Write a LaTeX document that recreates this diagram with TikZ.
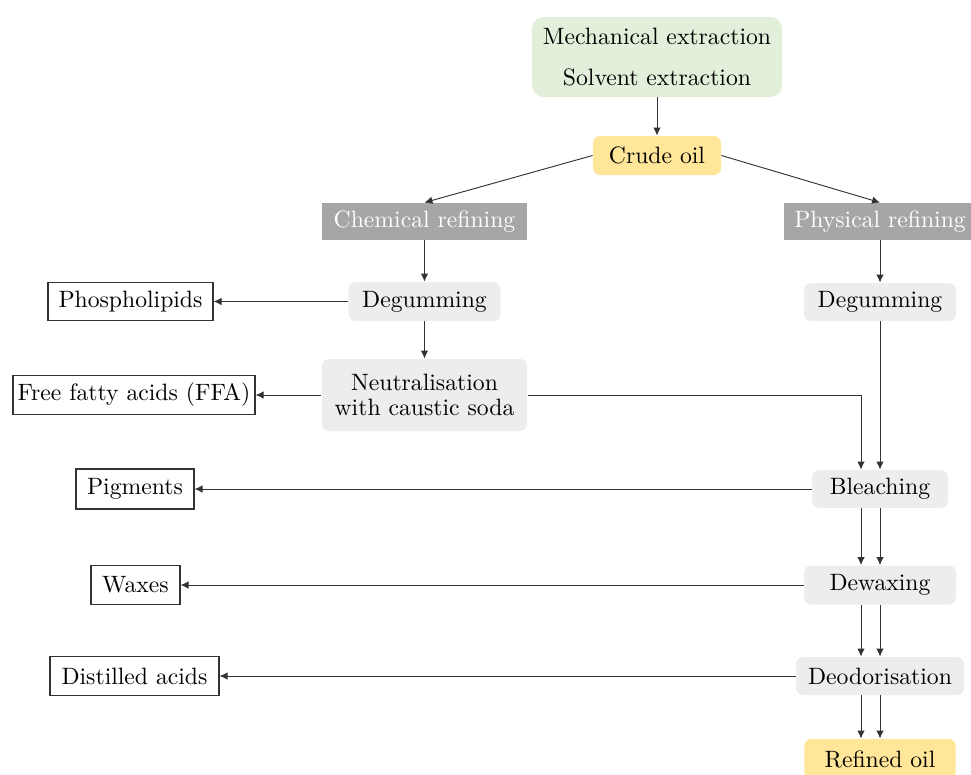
\documentclass[tikz,border=0pt]{standalone}
\usetikzlibrary{arrows.meta}
\definecolor{extgreen}{HTML}{E2EFDA}
\definecolor{oilyellow}{HTML}{FFE699}
\definecolor{routegray}{HTML}{A6A6A6}
\definecolor{stepgray}{HTML}{EDEDED}
\begin{document}
\begin{tikzpicture}[x=0.015cm, y=-0.015cm, >={Latex[length=3.4pt,width=3.2pt]},
	every node/.style={font=\fontsize{10.1}{11}\selectfont, inner sep=0pt, align=center},
	source/.style={fill=extgreen, rounded corners=5pt},
	oil/.style={fill=oilyellow, rounded corners=3pt},
	route/.style={fill=routegray, text=white},
	stage/.style={fill=stepgray, rounded corners=3pt},
	waste/.style={draw=black!80, line width=0.5pt, fill=white},
	link/.style={->, draw=black!80, line width=0.4pt}]
\path[use as bounding box] (0,0) rectangle (971,774);
\clip (0,0) rectangle (971,774);
% top of the chart
\node[source, minimum width=3.75cm, minimum height=1.2cm] (ext) at (657,57)
	{Mechanical extraction\\[0.22cm]Solvent extraction};
\node[oil, minimum width=1.92cm, minimum height=0.585cm] (crude) at (657,155.5) {Crude oil};
\node[route, minimum width=3.07cm, minimum height=0.555cm] (chem) at (424.5,221.5) {Chemical refining};
\node[route, minimum width=2.88cm, minimum height=0.555cm] (phys) at (880,221.5) {Physical refining};
% chemical route
\node[stage, minimum width=2.28cm, minimum height=0.585cm] (degC) at (424.5,301.5) {Degumming};
\node[stage, minimum width=3.08cm, minimum height=1.08cm] (neut) at (424.5,395) {Neutralisation\\with caustic soda};
\node[stage, minimum width=2.28cm, minimum height=0.57cm] (degP) at (880,302) {Degumming};
% common steps
\node[stage, minimum width=2.04cm, minimum height=0.57cm] (bleach) at (880,489) {Bleaching};
\node[stage, minimum width=2.28cm, minimum height=0.585cm] (dewax) at (880,585) {Dewaxing};
\node[stage, minimum width=2.52cm, minimum height=0.57cm] (deodor) at (880,676) {Deodorisation};
\node[oil, minimum width=2.27cm, minimum height=0.6cm] (refined) at (880,759) {Refined oil};
% removed products
\node[waste, minimum width=2.475cm, minimum height=0.57cm] (phos) at (130.5,301.5) {Phospholipids};
\node[waste, minimum width=3.63cm, minimum height=0.585cm] (ffa) at (134,395) {Free fatty acids (FFA)};
\node[waste, minimum width=1.77cm, minimum height=0.6cm] (pig) at (135,489) {Pigments};
\node[waste, minimum width=1.335cm, minimum height=0.585cm] (wax) at (135.5,585) {Waxes};
\node[waste, minimum width=2.535cm, minimum height=0.585cm] (dist) at (134.5,676) {Distilled acids};

\draw[link] (ext) -- (crude);
\draw[link] (crude.west) -- (chem.north);
\draw[link] (crude.east) -- (phys.north);
\draw[link] (chem) -- (degC);
\draw[link] (degC) -- (neut);
\draw[link] (phys) -- (degP);
\draw[link] (degC.west) -- (phos.east);
\draw[link] (neut.west) -- (ffa.east);
\draw[link] (neut.east) -| ([xshift=-0.285cm]bleach.north);
\draw[link] (degP) -- (bleach);
\foreach \a/\b in {bleach/dewax, dewax/deodor, deodor/refined} % two lanes
	{
	\draw[link] ([xshift=-0.285cm]\a.south) -- ([xshift=-0.285cm]\b.north);
	\draw[link] (\a) -- (\b);
	}
\foreach \a/\b in {bleach/pig, dewax/wax, deodor/dist}% side products
	\draw[link] (\a.west) -- (\b.east);
\end{tikzpicture}
\end{document}
